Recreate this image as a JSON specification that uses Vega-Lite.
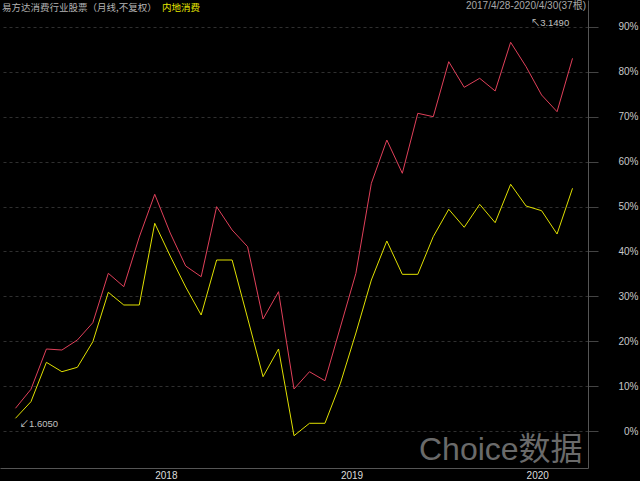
{
  "$schema": "https://vega.github.io/schema/vega-lite/v6.json",
  "width": 588,
  "height": 468,
  "autosize": {"type": "none"},
  "padding": {"left": 0, "top": 0, "right": 52, "bottom": 13},
  "background": "#000000",
  "config": {"view": {"stroke": null}, "font": "Liberation Sans, Noto Sans CJK SC"},
  "datasets": {
    "nav": [
      {"month": "2017-04", "series": "易方达消费行业股票", "value": 0.0506},
      {"month": "2017-05", "series": "易方达消费行业股票", "value": 0.0929},
      {"month": "2017-06", "series": "易方达消费行业股票", "value": 0.1827},
      {"month": "2017-07", "series": "易方达消费行业股票", "value": 0.1804},
      {"month": "2017-08", "series": "易方达消费行业股票", "value": 0.2027},
      {"month": "2017-09", "series": "易方达消费行业股票", "value": 0.2413},
      {"month": "2017-10", "series": "易方达消费行业股票", "value": 0.3513},
      {"month": "2017-11", "series": "易方达消费行业股票", "value": 0.3215},
      {"month": "2017-12", "series": "易方达消费行业股票", "value": 0.4320},
      {"month": "2018-01", "series": "易方达消费行业股票", "value": 0.5273},
      {"month": "2018-02", "series": "易方达消费行业股票", "value": 0.4410},
      {"month": "2018-03", "series": "易方达消费行业股票", "value": 0.3676},
      {"month": "2018-04", "series": "易方达消费行业股票", "value": 0.3437},
      {"month": "2018-05", "series": "易方达消费行业股票", "value": 0.4997},
      {"month": "2018-06", "series": "易方达消费行业股票", "value": 0.4478},
      {"month": "2018-07", "series": "易方达消费行业股票", "value": 0.4106},
      {"month": "2018-08", "series": "易方达消费行业股票", "value": 0.2495},
      {"month": "2018-09", "series": "易方达消费行业股票", "value": 0.3103},
      {"month": "2018-10", "series": "易方达消费行业股票", "value": 0.0936},
      {"month": "2018-11", "series": "易方达消费行业股票", "value": 0.1321},
      {"month": "2018-12", "series": "易方达消费行业股票", "value": 0.1120},
      {"month": "2019-01", "series": "易方达消费行业股票", "value": 0.2317},
      {"month": "2019-02", "series": "易方达消费行业股票", "value": 0.3513},
      {"month": "2019-03", "series": "易方达消费行业股票", "value": 0.5518},
      {"month": "2019-04", "series": "易方达消费行业股票", "value": 0.6482},
      {"month": "2019-05", "series": "易方达消费行业股票", "value": 0.5741},
      {"month": "2019-06", "series": "易方达消费行业股票", "value": 0.7077},
      {"month": "2019-07", "series": "易方达消费行业股票", "value": 0.7002},
      {"month": "2019-08", "series": "易方达消费行业股票", "value": 0.8227},
      {"month": "2019-09", "series": "易方达消费行业股票", "value": 0.7656},
      {"month": "2019-10", "series": "易方达消费行业股票", "value": 0.7857},
      {"month": "2019-11", "series": "易方达消费行业股票", "value": 0.7574},
      {"month": "2019-12", "series": "易方达消费行业股票", "value": 0.8659},
      {"month": "2020-01", "series": "易方达消费行业股票", "value": 0.8115},
      {"month": "2020-02", "series": "易方达消费行业股票", "value": 0.7485},
      {"month": "2020-03", "series": "易方达消费行业股票", "value": 0.7113},
      {"month": "2020-04", "series": "易方达消费行业股票", "value": 0.8302},
      {"month": "2017-04", "series": "内地消费", "value": 0.0283},
      {"month": "2017-05", "series": "内地消费", "value": 0.0653},
      {"month": "2017-06", "series": "内地消费", "value": 0.1530},
      {"month": "2017-07", "series": "内地消费", "value": 0.1321},
      {"month": "2017-08", "series": "内地消费", "value": 0.1419},
      {"month": "2017-09", "series": "内地消费", "value": 0.1989},
      {"month": "2017-10", "series": "内地消费", "value": 0.3090},
      {"month": "2017-11", "series": "内地消费", "value": 0.2807},
      {"month": "2017-12", "series": "内地消费", "value": 0.2807},
      {"month": "2018-01", "series": "内地消费", "value": 0.4627},
      {"month": "2018-02", "series": "内地消费", "value": 0.3898},
      {"month": "2018-03", "series": "内地消费", "value": 0.3208},
      {"month": "2018-04", "series": "内地消费", "value": 0.2584},
      {"month": "2018-05", "series": "内地消费", "value": 0.3809},
      {"month": "2018-06", "series": "内地消费", "value": 0.3809},
      {"month": "2018-07", "series": "内地消费", "value": 0.2517},
      {"month": "2018-08", "series": "内地消费", "value": 0.1210},
      {"month": "2018-09", "series": "内地消费", "value": 0.1827},
      {"month": "2018-10", "series": "内地消费", "value": -0.0105},
      {"month": "2018-11", "series": "内地消费", "value": 0.0172},
      {"month": "2018-12", "series": "内地消费", "value": 0.0172},
      {"month": "2019-01", "series": "内地消费", "value": 0.1063},
      {"month": "2019-02", "series": "内地消费", "value": 0.2183},
      {"month": "2019-03", "series": "内地消费", "value": 0.3364},
      {"month": "2019-04", "series": "内地消费", "value": 0.4233},
      {"month": "2019-05", "series": "内地消费", "value": 0.3490},
      {"month": "2019-06", "series": "内地消费", "value": 0.3490},
      {"month": "2019-07", "series": "内地消费", "value": 0.4329},
      {"month": "2019-08", "series": "内地消费", "value": 0.4939},
      {"month": "2019-09", "series": "内地消费", "value": 0.4538},
      {"month": "2019-10", "series": "内地消费", "value": 0.5050},
      {"month": "2019-11", "series": "内地消费", "value": 0.4641},
      {"month": "2019-12", "series": "内地消费", "value": 0.5496},
      {"month": "2020-01", "series": "内地消费", "value": 0.5012},
      {"month": "2020-02", "series": "内地消费", "value": 0.4908},
      {"month": "2020-03", "series": "内地消费", "value": 0.4388},
      {"month": "2020-04", "series": "内地消费", "value": 0.5407}
    ],
    "maxNote": [{"month": "2019-12", "value": 0.8659, "label": "↖3.1490"}],
    "minNote": [{"month": "2017-04", "value": 0.0506, "label": "↙1.6050"}],
    "hdrMain": [{"t": "易方达消费行业股票（月线,不复权）"}],
    "hdrIdx": [{"t": "内地消费"}],
    "hdrRange": [{"t": "2017/4/28-2020/4/30(37根)"}],
    "mark": [{"t": "Choice数据"}]
  },
  "encoding": {
    "x": {
      "field": "month",
      "type": "ordinal",
      "scale": {"type": "point", "padding": 1.1},
      "axis": {
        "values": ["2018-01", "2019-01", "2020-01"],
        "labelExpr": "slice(datum.value, 0, 4)",
        "title": null,
        "labelAngle": 0,
        "labelAlign": "left",
        "labelDx": 3,
        "labelBaseline": "top",
        "labelPadding": 2,
        "ticks": false,
        "domainColor": "#555555",
        "labelColor": "#dcdcdc",
        "labelFontSize": 10,
        "grid": false
      }
    },
    "y": {
      "field": "value",
      "type": "quantitative",
      "scale": {"domain": [-0.0824, 0.9601], "nice": false, "zero": false},
      "axis": {
        "orient": "right",
        "values": [0, 0.1, 0.2, 0.3, 0.4, 0.5, 0.6, 0.7, 0.8, 0.9],
        "format": ".0%",
        "title": null,
        "grid": true,
        "gridColor": "#303030",
        "gridDash": [3, 3],
        "tickSize": 10,
        "tickColor": "#444444",
        "domainColor": "#555555",
        "labelColor": "#c8c8c8",
        "labelFontSize": 10,
        "labelAlign": "right",
        "labelPadding": 40,
        "labelBaseline": "middle"
      }
    }
  },
  "layer": [
    {
      "data": {"name": "nav"},
      "mark": {"type": "line", "strokeWidth": 1},
      "encoding": {
        "color": {
          "field": "series",
          "type": "nominal",
          "scale": {"domain": ["易方达消费行业股票", "内地消费"], "range": ["#e0405a", "#e0e000"]},
          "legend": null
        }
      }
    },
    {
      "data": {"name": "maxNote"},
      "mark": {"type": "text", "align": "left", "baseline": "middle", "dx": 20, "dy": -19, "fontSize": 9.5, "color": "#c0c0c0"},
      "encoding": {"text": {"field": "label"}}
    },
    {
      "data": {"name": "minNote"},
      "mark": {"type": "text", "align": "left", "baseline": "middle", "dx": 4, "dy": 16, "fontSize": 9.5, "color": "#c0c0c0"},
      "encoding": {"text": {"field": "label"}}
    },
    {
      "data": {"name": "hdrMain"},
      "mark": {"type": "text", "align": "left", "baseline": "middle", "font": "Noto Sans CJK SC", "fontSize": 9.5, "color": "#b4b4b4"},
      "encoding": {"text": {"field": "t"}, "x": {"value": 2}, "y": {"value": 8}}
    },
    {
      "data": {"name": "hdrIdx"},
      "mark": {"type": "text", "align": "left", "baseline": "middle", "font": "Noto Sans CJK SC", "fontSize": 9.5, "color": "#e6e600"},
      "encoding": {"text": {"field": "t"}, "x": {"value": 162}, "y": {"value": 8}}
    },
    {
      "data": {"name": "hdrRange"},
      "mark": {"type": "text", "align": "right", "baseline": "middle", "fontSize": 10, "color": "#a8a8a8"},
      "encoding": {"text": {"field": "t"}, "x": {"value": 586}, "y": {"value": 6}}
    },
    {
      "data": {"name": "mark"},
      "mark": {"type": "text", "align": "left", "baseline": "alphabetic", "fontSize": 32, "color": "#6a6a6a"},
      "encoding": {"text": {"field": "t"}, "x": {"value": 419}, "y": {"value": 460}}
    }
  ]
}
